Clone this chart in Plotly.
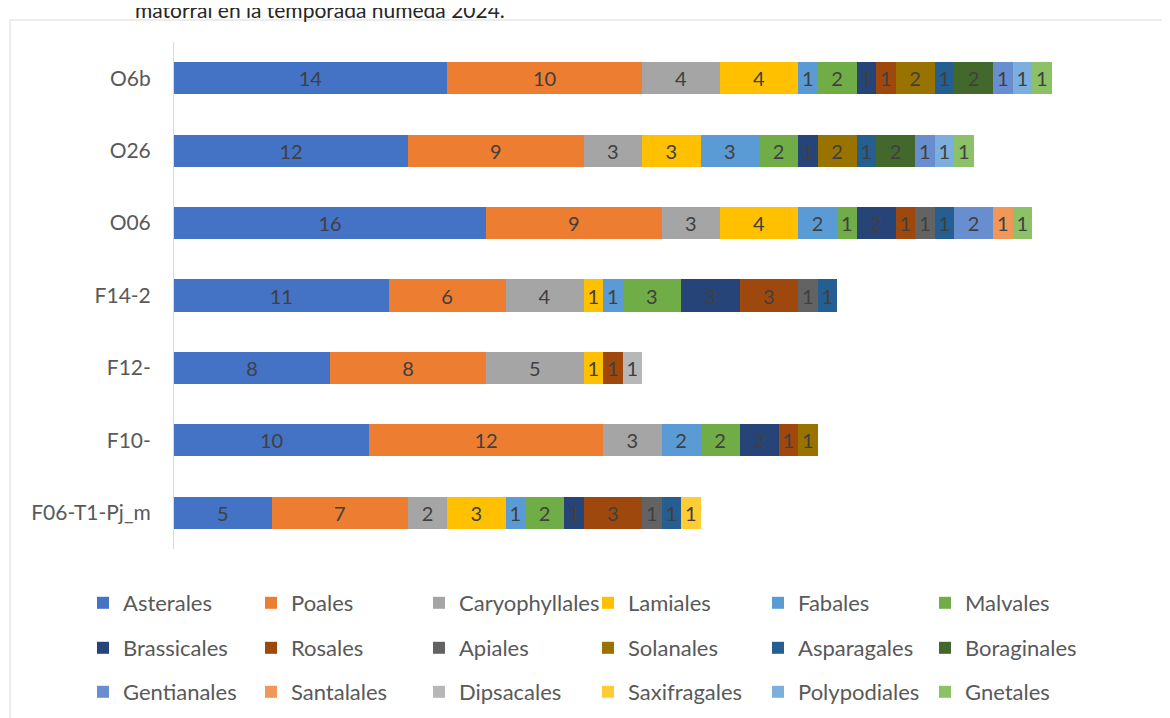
import plotly.graph_objects as go

categories = ["F06-T1-Pj_m", "F10-", "F12-", "F14-2", "O06", "O26", "O6b"]

orders = ["Asterales", "Poales", "Caryophyllales", "Lamiales", "Fabales", "Malvales",
          "Brassicales", "Rosales", "Apiales", "Solanales", "Asparagales", "Boraginales",
          "Gentianales", "Santalales", "Dipsacales", "Saxifragales", "Polypodiales", "Gnetales"]

# values per order, in the same sequence as categories (bottom to top)
asterales      = [5, 10, 8, 11, 16, 12, 14]
poales         = [7, 12, 8, 6, 9, 9, 10]
caryophyllales = [2, 3, 5, 4, 3, 3, 4]
lamiales       = [3, 0, 1, 1, 4, 3, 4]
fabales        = [1, 2, 0, 1, 2, 3, 1]
malvales       = [2, 2, 0, 3, 1, 2, 2]
brassicales    = [1, 2, 0, 3, 2, 1, 1]
rosales        = [3, 1, 1, 3, 1, 0, 1]
apiales        = [1, 0, 0, 1, 1, 0, 0]
solanales      = [0, 1, 0, 0, 0, 2, 2]
asparagales    = [1, 0, 0, 1, 1, 1, 1]
boraginales    = [0, 0, 0, 0, 0, 2, 2]
gentianales    = [0, 0, 0, 0, 2, 1, 1]
santalales     = [0, 0, 0, 0, 1, 0, 0]
dipsacales     = [0, 0, 1, 0, 0, 0, 0]
saxifragales   = [1, 0, 0, 0, 0, 0, 0]
polypodiales   = [0, 0, 0, 0, 0, 1, 1]
gnetales       = [0, 0, 0, 0, 1, 1, 1]

series = [asterales, poales, caryophyllales, lamiales, fabales, malvales,
          brassicales, rosales, apiales, solanales, asparagales, boraginales,
          gentianales, santalales, dipsacales, saxifragales, polypodiales, gnetales]

colors = ["#4472C4", "#ED7D31", "#A5A5A5", "#FFC000", "#5B9BD5", "#70AD47",
          "#264478", "#9E480E", "#636363", "#997300", "#255E91", "#43682B",
          "#698ED0", "#F1975A", "#B7B7B7", "#FFCD33", "#7CAFDD", "#8CC168"]

title_text = "matorral en la temporada húmeda 2024."

FONT = "Lato"
W, H = 1170, 718
OFF = 8  # page body margin offset (screen = figure + OFF)

# plot area in screen pixels
PL, PR, PT, PB = 174, 1149, 42, 549
ML = PL - OFF
MT = PT - OFF
MR = W - (PR - OFF)
MB = H - (PB - OFF)
plot_w = W - ML - MR
plot_h = H - MT - MB

def px(sx):
    return (sx - OFF - ML) / plot_w

def py(sy):
    return (H - MB - (sy - OFF)) / plot_h

# legend layout (screen pixels): text starts of the 6 columns, row centres
col_text = [120, 288, 456, 625, 795, 962]
row_y = [603, 648, 692]

fig = go.Figure()
legends = {}
for i, (name, vals, col) in enumerate(zip(orders, series, colors)):
    v = [x if x else None for x in vals]
    key = "legend" if i == 0 else f"legend{i + 1}"
    r, c = divmod(i, 6)
    legends[key] = dict(
        orientation="h", xref="container", yref="container",
        x=(col_text[c] - 37 - OFF) / W, xanchor="left",
        y=1 - (row_y[r] - OFF) / H, yanchor="middle",
        font=dict(family=FONT, size=22, color="#595959"),
        bgcolor="rgba(0,0,0,0)",
    )
    fig.add_trace(go.Bar(
        y=categories, x=v, name=name, orientation="h",
        marker=dict(color=col, line=dict(width=0)),
        text=[str(x) if x else "" for x in vals],
        textposition="inside", insidetextanchor="middle",
        textfont=dict(color="#404040", size=20, family=FONT),
        legend=key, showlegend=True, hoverinfo="x+name",
    ))

fig.update_layout(
    width=W, height=H,
    showlegend=True,
    margin=dict(l=ML, r=MR, t=MT, b=MB, autoexpand=False),
    paper_bgcolor="white", plot_bgcolor="white",
    barmode="stack", bargap=0.558,
    font=dict(family=FONT, color="#595959"),
    uniformtext=dict(minsize=20, mode="show"),
    xaxis=dict(range=[0, 50], visible=False, fixedrange=True),
    yaxis=dict(showline=True, linecolor="#D9D9D9", linewidth=1, showgrid=False,
               ticks="", ticklabelstandoff=18, automargin=False,
               tickfont=dict(family=FONT, size=21, color="#595959"),
               categoryorder="array", categoryarray=categories),
    shapes=[dict(type="rect", xref="paper", yref="paper",
                 x0=px(10), x1=px(1200), y0=py(740), y1=py(20),
                 line=dict(color="#D9D9D9", width=1), fillcolor="rgba(0,0,0,0)",
                 layer="below")],
    annotations=[dict(text=title_text, xref="paper", yref="paper",
                      x=px(133), y=py(10), xanchor="left", yanchor="middle",
                      showarrow=False,
                      font=dict(family=FONT, size=21, color="#262626", weight="normal"))],
    **legends,
)

fig.write_html("out.html")
